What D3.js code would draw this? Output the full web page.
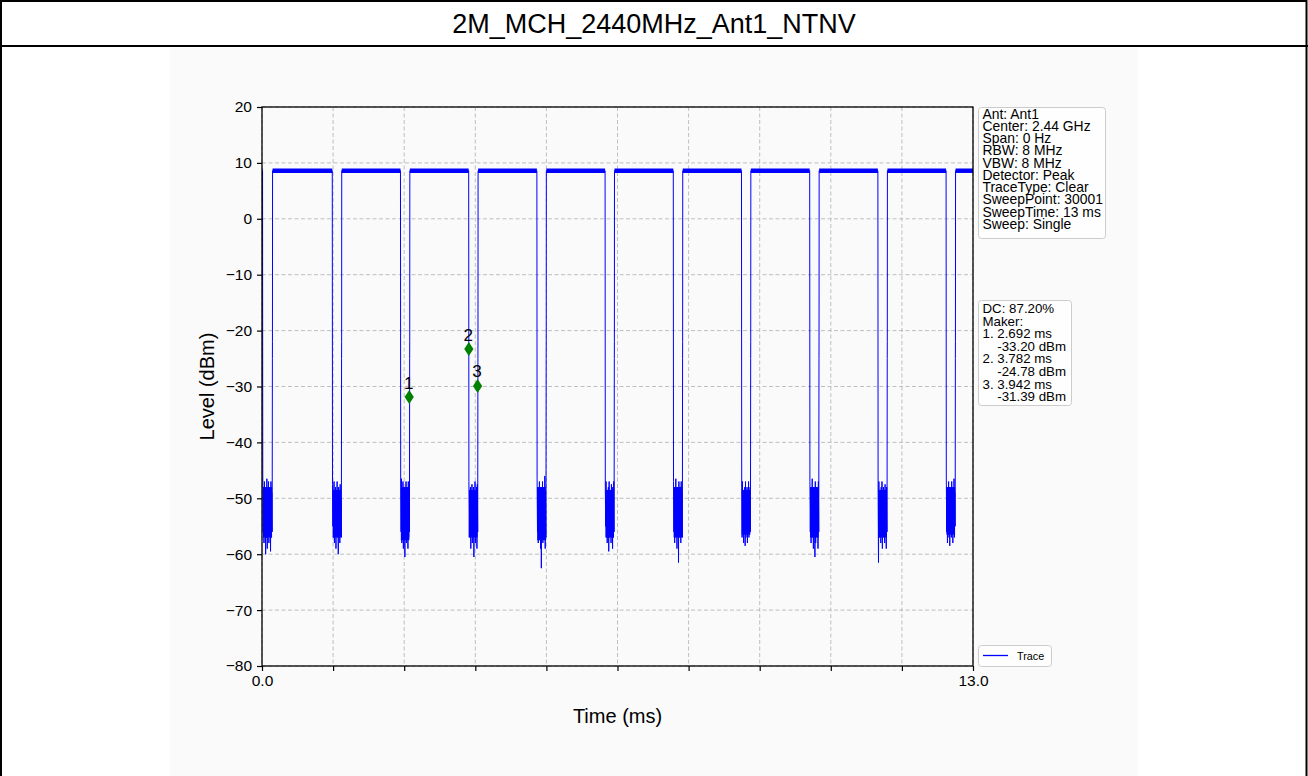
<!DOCTYPE html>
<html>
<head>
<meta charset="utf-8">
<script src="https://cdn.jsdelivr.net/npm/d3@7"></script>
<style>
  html, body { margin: 0; padding: 0; background: #ffffff; }
  svg { display: block; font-family: "Liberation Sans", Arial, sans-serif; }
</style>
</head>
<body>
<svg id="chart" width="1308" height="776"></svg>
<script>
// ---------------- data ----------------
const chartTitle = "2M_MCH_2440MHz_Ant1_NTNV";
const timeDomain = [0, 13];
const levelDomain = [-80, 20];
const xTickValues = [0, 1.3, 2.6, 3.9, 5.2, 6.5, 7.8, 9.1, 10.4, 11.7, 13];
const xTickLabels = ["0.0", "", "", "", "", "", "", "", "", "", "13.0"];
const yTickValues = [-80, -70, -60, -50, -40, -30, -20, -10, 0, 10, 20];
const yTickLabels = ["\u221280", "\u221270", "\u221260", "\u221250", "\u221240", "\u221230", "\u221220", "\u221210", "0", "10", "20"];

// burst-off gaps (ms)
const gapStarts = [0.010, 1.285, 2.532, 3.779, 5.026, 6.273, 7.520, 8.767, 10.014, 11.261, 12.508];
const gapEnds   = [0.190, 1.455, 2.700, 3.948, 5.196, 6.442, 7.690, 8.935, 10.184, 11.432, 12.678];
const onLevel = 8.6;
const onLevelLow = 8.2;
const onLevelHigh = 9.0;
const edgeStepLevels = [-25, -22];
// dense noise core inside each gap (dBm)
const gapCoreTop    = [-48, -48.5, -48, -48.5, -48, -48.5, -48, -48.5, -48, -48.5, -48];
const gapCoreBottom = [-57, -57, -57.5, -57, -57.5, -57, -57, -56.5, -57, -57, -56.5];
// noise samples inside each gap (dBm)
const gapNoise = [
  [-45.5,-56,-48,-58,-47,-55,-50,-60,-48,-57,-46.5,-59,-49,-56,-47,-58,-50,-55,-48,-59.5,-47,-57,-49,-56],
  [-47.5,-55,-49,-57,-47,-58,-50,-56,-48,-59,-49,-55,-47,-57,-50,-60,-48,-56,-49,-58,-47.5,-54,-50,-57],
  [-48,-56,-46.5,-58,-49,-55,-47,-59,-50,-57,-48,-60.5,-49,-56,-47,-58,-50,-55,-48,-59,-47,-57,-49,-56],
  [-47,-57,-49,-55,-48,-59,-50,-56,-47.5,-58,-49,-57,-48,-60.5,-50,-56,-47,-58,-49,-55,-48,-59,-47.5,-56],
  [-46.5,-56,-48,-58,-49,-57,-47,-55,-50,-59,-48,-62.5,-49,-56,-47,-58,-50,-57,-48,-55,-46,-59,-49,-57],
  [-48,-55,-47,-57,-49,-58,-50,-56,-48,-59.5,-47,-57,-49,-55,-50,-58,-47.5,-56,-48,-59,-49,-57,-47,-56],
  [-47,-56,-48,-58,-50,-55,-46.5,-57,-49,-59,-48,-56,-50,-61.5,-47,-57,-49,-55,-48,-58,-47,-56,-49,-57],
  [-48,-57,-47,-55,-49,-58,-50,-56,-48,-58.5,-47,-57,-49,-55,-48,-58,-50,-56,-47,-57,-49,-55,-48,-56],
  [-47,-56,-49,-58,-48,-55,-46.5,-57,-50,-59,-48,-56,-49,-60.5,-47,-58,-50,-55,-48,-57,-49,-59,-47,-56],
  [-48,-61.5,-47,-57,-49,-56,-50,-58,-48,-55,-47,-59,-49,-57,-48,-56,-50,-58,-47.5,-55,-49,-59,-48,-56],
  [-46,-56,-48,-58,-49,-55,-47,-57,-50,-58.5,-48,-56,-49,-57,-47,-55,-50,-58,-48,-56,-46.5,-57,-49,-55]
];

// markers
const markerLabels = ["1", "2", "3"];
const markerTimes = [2.692, 3.782, 3.942];
const markerLevels = [-31.9, -23.3, -29.9];

// annotation texts
const infoLines = ["Ant: Ant1", "Center: 2.44 GHz", "Span: 0 Hz", "RBW: 8 MHz", "VBW: 8 MHz",
  "Detector: Peak", "TraceType: Clear", "SweepPoint: 30001", "SweepTime: 13 ms", "Sweep: Single"];
const dcLines = ["DC: 87.20%", "Maker:", "1. 2.692 ms", "    -33.20 dBm", "2. 3.782 ms", "    -24.78 dBm",
  "3. 3.942 ms", "    -31.39 dBm"];
const legendLabels = ["Trace"];

// ---------------- drawing ----------------
const svg = d3.select("#chart");
const W = 1308, H = 776;
const plot = { left: 262, right: 973, top: 107, bottom: 666 };
const traceColor = "#0000ff";
const font = "'Liberation Sans', Arial, sans-serif";

// outer frame & title
svg.append("rect").attr("x", 0).attr("y", 0).attr("width", W).attr("height", H).attr("fill", "#ffffff");
svg.append("rect").attr("x", 170).attr("y", 48).attr("width", 968).attr("height", H - 48).attr("fill", "#fafafa");
svg.append("rect").attr("x", 1).attr("y", 1).attr("width", W - 2.5).attr("height", H + 20)
  .attr("fill", "none").attr("stroke", "#000").attr("stroke-width", 2);
svg.append("line").attr("x1", 0).attr("x2", W).attr("y1", 46).attr("y2", 46)
  .attr("stroke", "#000").attr("stroke-width", 2);
svg.append("text").attr("x", 654).attr("y", 32.5).attr("text-anchor", "middle")
  .attr("font-size", 27).attr("fill", "#000").text(chartTitle);

const x = d3.scaleLinear().domain(timeDomain).range([plot.left, plot.right]);
const y = d3.scaleLinear().domain(levelDomain).range([plot.bottom, plot.top]);

// grid
const grid = svg.append("g");
grid.selectAll("line.v").data(xTickValues).join("line")
  .attr("x1", d => x(d)).attr("x2", d => x(d)).attr("y1", plot.top).attr("y2", plot.bottom)
  .attr("stroke", "#b0b0b0").attr("stroke-width", 0.8).attr("stroke-dasharray", "4,2.5");
grid.selectAll("line.h").data(yTickValues).join("line")
  .attr("x1", plot.left).attr("x2", plot.right).attr("y1", d => y(d)).attr("y2", d => y(d))
  .attr("stroke", "#b0b0b0").attr("stroke-width", 0.8).attr("stroke-dasharray", "4,2.5");

// trace points
const pts = [];
pts.push([timeDomain[0], onLevel]);
gapStarts.forEach((gs, i) => {
  const ge = gapEnds[i];
  pts.push([gs, onLevel]);
  const noise = gapNoise[i];
  const n = noise.length;
  const a = gs + 0.004, b = ge - 0.004;
  noise.forEach((v, j) => pts.push([a + (b - a) * j / (n - 1), v]));
  pts.push([ge, edgeStepLevels[0]]);
  pts.push([ge + 0.001, edgeStepLevels[1]]);
  pts.push([ge + 0.003, onLevel]);
});
pts.push([timeDomain[1], onLevel]);

// dense noise cores
svg.selectAll("rect.core").data(gapStarts).join("rect")
  .attr("x", (d, i) => x(d + 0.006))
  .attr("width", (d, i) => x(gapEnds[i] - 0.006) - x(d + 0.006))
  .attr("y", (d, i) => y(gapCoreTop[i]))
  .attr("height", (d, i) => y(gapCoreBottom[i]) - y(gapCoreTop[i]))
  .attr("fill", traceColor);

const line = d3.line().x(d => x(d[0])).y(d => y(d[1]));
svg.append("path").datum(pts).attr("d", line)
  .attr("fill", "none").attr("stroke", traceColor).attr("stroke-width", 1);

// plateau ripple envelope
const onSegs = [[timeDomain[0], gapStarts[0]]];
gapEnds.forEach((ge, i) => onSegs.push([ge + 0.003, i + 1 < gapStarts.length ? gapStarts[i + 1] : timeDomain[1]]));
const area = d3.area().x(d => x(d)).y0(y(onLevelLow)).y1(y(onLevelHigh));
svg.selectAll("path.plateau").data(onSegs).join("path")
  .attr("d", d => area(d)).attr("fill", traceColor);

// markers
const mk = svg.append("g");
markerTimes.forEach((t, i) => {
  const cx = x(t), cy = y(markerLevels[i]);
  mk.append("path").attr("d", `M${cx},${cy - 7}L${cx + 4.6},${cy}L${cx},${cy + 7}L${cx - 4.6},${cy}Z`)
    .attr("fill", "#008000");
  mk.append("text").attr("x", cx - 0.5).attr("y", cy - 8.5).attr("text-anchor", "middle")
    .attr("font-size", 17).attr("fill", "#000").text(markerLabels[i]);
});

// axes
const xAxis = d3.axisBottom(x).tickValues(xTickValues).tickSize(5).tickPadding(4)
  .tickFormat((d, i) => xTickLabels[i]);
const yAxis = d3.axisLeft(y).tickValues(yTickValues).tickSize(5).tickPadding(5)
  .tickFormat((d, i) => yTickLabels[i]);
const gx = svg.append("g").attr("transform", `translate(0,${plot.bottom})`).call(xAxis);
const gy = svg.append("g").attr("transform", `translate(${plot.left},0)`).call(yAxis);
[gx, gy].forEach(g => {
  g.select(".domain").remove();
  g.selectAll(".tick line").attr("stroke", "#000").attr("stroke-width", 1.2);
  g.selectAll(".tick text").attr("fill", "#000").attr("font-size", 15.5).attr("font-family", font);
});

// spines
svg.append("rect").attr("x", plot.left).attr("y", plot.top)
  .attr("width", plot.right - plot.left).attr("height", plot.bottom - plot.top)
  .attr("fill", "none").attr("stroke", "#000").attr("stroke-width", 1.3);

// axis labels
svg.append("text").attr("x", (plot.left + plot.right) / 2).attr("y", 723).attr("text-anchor", "middle")
  .attr("font-size", 20).attr("fill", "#000").text("Time (ms)");
svg.append("text").attr("transform", `translate(214,${(plot.top + plot.bottom) / 2}) rotate(-90)`)
  .attr("text-anchor", "middle").attr("font-size", 20).attr("fill", "#000").text("Level (dBm)");

// info boxes
function textBox(lines, bx, by, bw, bh, firstBase, step, fs) {
  svg.append("rect").attr("x", bx).attr("y", by).attr("width", bw).attr("height", bh).attr("rx", 3)
    .attr("fill", "#ffffff").attr("fill-opacity", 0.8).attr("stroke", "#cccccc").attr("stroke-width", 1);
  const t = svg.append("text").attr("font-size", fs).attr("fill", "#000").attr("xml:space", "preserve");
  lines.forEach((s, i) => {
    t.append("tspan").attr("x", bx + 4).attr("y", firstBase + i * step).style("white-space", "pre").text(s);
  });
}
textBox(infoLines, 978.5, 107.5, 127, 131, 118.5, 12.25, 13.9);
textBox(dcLines, 978.5, 300.5, 93, 105, 313, 12.6, 13.3);

// legend
svg.append("rect").attr("x", 978.5).attr("y", 645.5).attr("width", 73).attr("height", 21).attr("rx", 3)
  .attr("fill", "#ffffff").attr("fill-opacity", 0.8).attr("stroke", "#cccccc");
svg.append("line").attr("x1", 983).attr("x2", 1008).attr("y1", 655.5).attr("y2", 655.5)
  .attr("stroke", traceColor).attr("stroke-width", 1.3);
svg.append("text").attr("x", 1017).attr("y", 659.5).attr("font-size", 10.8).attr("fill", "#000").text(legendLabels[0]);
</script>
</body>
</html>
